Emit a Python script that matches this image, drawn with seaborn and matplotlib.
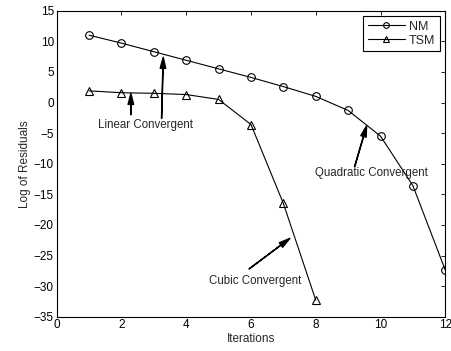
import matplotlib
matplotlib.use("Agg")
import matplotlib.pyplot as plt
import seaborn as sns
import pandas as pd

iterations_nm = [1, 2, 3, 4, 5, 6, 7, 8, 9, 10, 11, 12]
nm_values = [11.0, 9.7, 8.3, 6.9, 5.5, 4.1, 2.6, 1.0, -1.3, -5.5, -13.6, -27.4]
iterations_tsm = [1, 2, 3, 4, 5, 6, 7, 8]
tsm_values = [1.9, 1.6, 1.5, 1.3, 0.5, -3.6, -16.5, -32.3]
xticks = [0, 2, 4, 6, 8, 10, 12]
yticks = [-35, -30, -25, -20, -15, -10, -5, 0, 5, 10, 15]

sns.set_theme(style="white")
plt.rcParams['font.family'] = ['Liberation Sans', 'DejaVu Sans']
plt.rcParams['font.size'] = 8

fig = plt.figure(figsize=(4.51, 3.51), dpi=100)
ax = fig.add_axes([0.1257, 0.0977, 0.8617, 0.8718])

df_nm = pd.DataFrame({"it": iterations_nm, "val": nm_values})
df_tsm = pd.DataFrame({"it": iterations_tsm, "val": tsm_values})
sns.lineplot(data=df_nm, x="it", y="val", ax=ax, color="black", lw=0.8,
             marker="o", markersize=5.5, markerfacecolor="none",
             markeredgecolor="black", markeredgewidth=0.8, label="NM")
sns.lineplot(data=df_tsm, x="it", y="val", ax=ax, color="black", lw=0.8,
             marker="^", markersize=6, markerfacecolor="none",
             markeredgecolor="black", markeredgewidth=0.8, label="TSM")

ax.set_xlim(0, 12)
ax.set_ylim(-35, 15)
ax.set_xticks(xticks)
ax.set_yticks(yticks)
ax.set_yticklabels([str(t).replace('-', '\u2212') for t in yticks])
ax.tick_params(direction="in", length=3, width=0.6, top=True, right=True,
               labelsize=8.5, colors="black", pad=2)
for s in ax.spines.values():
    s.set_color("black")
    s.set_linewidth(0.8)
ax.set_xlabel("Iterations", fontsize=8.5, labelpad=1)
ax.set_ylabel("Log of Residuals", fontsize=8.5, labelpad=2)

arrow = dict(facecolor="black", edgecolor="black", width=0.2, headwidth=4,
             headlength=8, shrink=0)
ax.annotate("", xy=(2.29, 1.5), xytext=(2.29, -2.0), arrowprops=arrow)
ax.annotate("", xy=(3.29, 7.4), xytext=(3.24, -2.6), arrowprops=arrow)
ax.text(1.27, -3.6, "Linear Convergent", fontsize=8.3, va="center", ha="left")
ax.annotate("", xy=(9.57, -3.8), xytext=(9.2, -10.5), arrowprops=arrow)
ax.text(7.97, -11.6, "Quadratic Convergent", fontsize=8.3, va="center", ha="left")
ax.annotate("", xy=(7.2, -22.2), xytext=(5.94, -27.2), arrowprops=arrow)
ax.text(4.71, -29.2, "Cubic Convergent", fontsize=8.3, va="center", ha="left")

leg = ax.legend(loc="upper right", fontsize=9, frameon=True, fancybox=False,
                edgecolor="black", framealpha=1, borderaxespad=0.45,
                handlelength=3.0, handletextpad=0.3, borderpad=0.35,
                labelspacing=0.15, markerscale=0.75)
leg.get_frame().set_linewidth(0.8)

fig.savefig("out.png", dpi=100)
